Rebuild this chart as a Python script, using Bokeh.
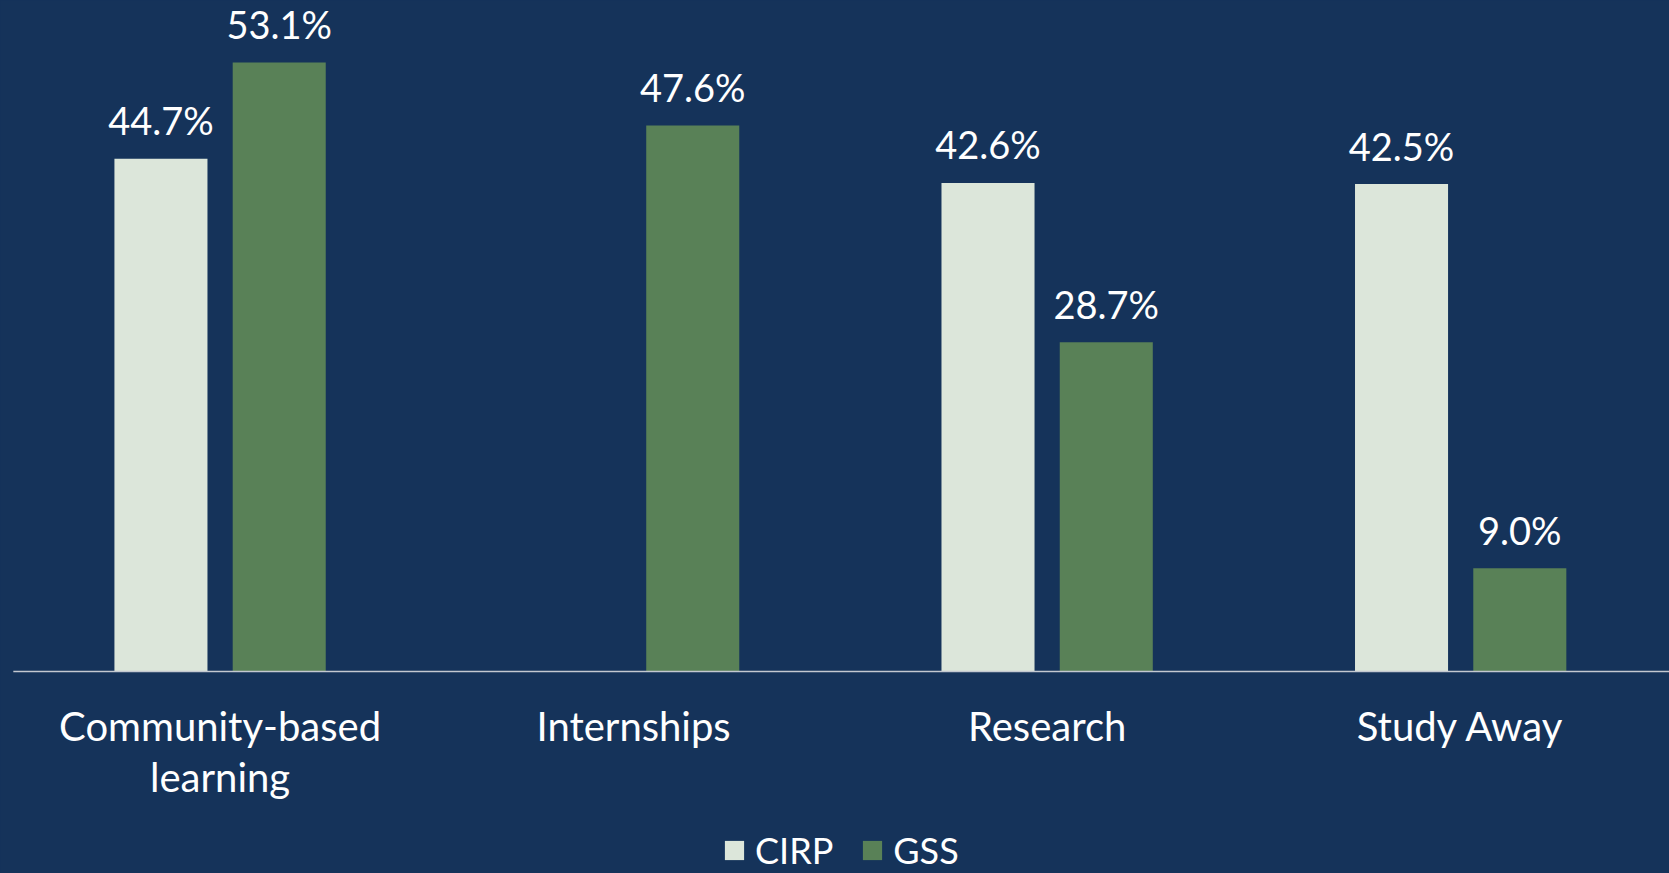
import textwrap
from bokeh.plotting import figure
from bokeh.models import ColumnDataSource, Range1d, Legend, LegendItem
from bokeh.core.properties import value
from bokeh.embed import file_html
from bokeh.resources import INLINE

categories = ["Community-based learning", "Internships", "Research", "Study Away"]
cirp = [44.7, None, 42.6, 42.5]
gss = [53.1, 47.6, 28.7, 9.0]
series_names = ["CIRP", "GSS"]

BG = "#15335A"
CIRP_COLOR = "#DCE6DA"
GSS_COLOR = "#598157"
FONT = "Lato"

OFF = 0.143
BW = 0.225


def make_source(vals, off):
    xs, vs = [], []
    for i, v in enumerate(vals):
        if v is not None:
            xs.append(i + 0.5 + off)
            vs.append(v)
    return ColumnDataSource(dict(x=xs, val=vs, lab=[f"{v:.1f}%" for v in vs]))


src_c = make_source(cirp, -OFF)
src_g = make_source(gss, OFF)

# category label lines
lx, ltxt, loff = [], [], []
for i, c in enumerate(categories):
    for j, line in enumerate(textwrap.wrap(c, 16)):
        lx.append(i + 0.5)
        ltxt.append(line)
        loff.append(54 + 51 * j)
src_lab = ColumnDataSource(dict(x=lx, y=[0] * len(lx), t=ltxt, yo=loff))

p = figure(
    width=1669, height=873,
    x_range=Range1d(-0.031, 4.005),
    y_range=Range1d(-17.61, 58.50),
    output_backend="svg", toolbar_location=None,
    background_fill_color=BG, border_fill_color=BG,
    min_border=0,
)
p.outline_line_color = None
p.xgrid.visible = False
p.ygrid.visible = False
p.axis.visible = False

r1 = p.vbar(x="x", top="val", width=BW, source=src_c, fill_color=CIRP_COLOR, line_color=None)
r2 = p.vbar(x="x", top="val", width=BW, source=src_g, fill_color=GSS_COLOR, line_color=None)

# baseline (category axis line)
p.segment(x0=[0], y0=[0], x1=[len(categories) + 0.1], y1=[0], line_color="#C3C8D0", line_width=1.5)

for src in (src_c, src_g):
    p.text(x="x", y="val", text="lab", source=src,
           text_align="center", text_baseline="alphabetic", y_offset=-38.5,
           text_color="white", text_font=value(FONT), text_font_size="38px")

p.text(x="x", y="y", text="t", source=src_lab, y_offset="yo",
       text_align="center", text_baseline="alphabetic",
       text_color="white", text_font=value(FONT), text_font_size="40px")

legend = Legend(items=[LegendItem(label=series_names[0], renderers=[r1]),
                       LegendItem(label=series_names[1], renderers=[r2])],
                orientation="horizontal", location=(722, 1))
legend.background_fill_alpha = 0
legend.border_line_color = None
legend.label_text_color = "white"
legend.label_text_font = FONT
legend.label_text_font_size = "36px"
legend.glyph_width = 24
legend.glyph_height = 24
legend.label_standoff = 9
legend.spacing = 27
legend.margin = 0
legend.padding = 0
p.add_layout(legend)

html = file_html(p, INLINE)
html = html.replace("</head>", "<style>html,body{background-color:%s;}</style></head>" % BG, 1)
open("out.html", "w").write(html)
